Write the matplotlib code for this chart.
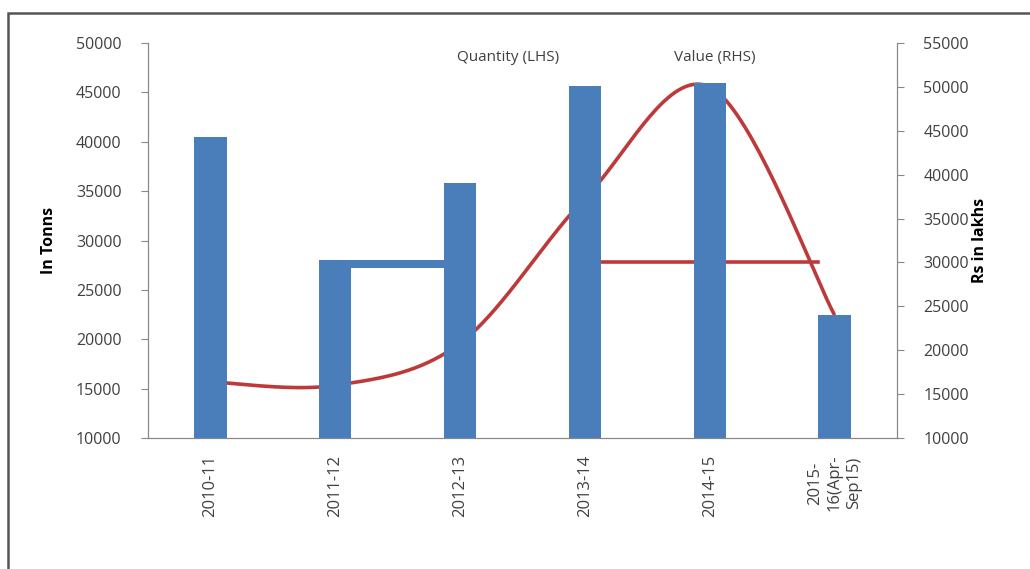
import numpy as np
import matplotlib.pyplot as plt

plt.rcParams['font.family'] = ['Open Sans', 'DejaVu Sans']

years = ['2010-11', '2011-12', '2012-13', '2013-14', '2014-15',
         '2015-\n16(Apr-\nSep15)']
quantity = [40500, 28000, 35800, 45600, 46000, 22500]   # tonnes, LHS
value = [16400, 16000, 20800, 37300, 50000, 24000]      # Rs lakhs, RHS

blue = '#4A7EBB'
red = '#BE3A3A'
grey = '#404040'


def smooth(xs, ys, n=40):
    # Bezier smoothing through every point (catmull-rom style tangents)
    xs = np.asarray(xs, float)
    ys = np.asarray(ys, float)
    px = np.r_[xs[0], xs, xs[-1]]
    py = np.r_[ys[0], ys, ys[-1]]
    outx, outy = [], []
    t = np.linspace(0, 1, n)
    for i in range(1, len(px) - 2):
        p0 = np.array([px[i], py[i]])
        p3 = np.array([px[i + 1], py[i + 1]])
        c1 = p0 + (np.array([px[i + 1], py[i + 1]]) - np.array([px[i - 1], py[i - 1]])) / 6
        c2 = p3 - (np.array([px[i + 2], py[i + 2]]) - p0) / 6
        pts = ((1 - t) ** 3)[:, None] * p0 + (3 * (1 - t) ** 2 * t)[:, None] * c1 \
            + (3 * (1 - t) * t ** 2)[:, None] * c2 + (t ** 3)[:, None] * p3
        outx.extend(pts[:, 0])
        outy.extend(pts[:, 1])
    return np.array(outx), np.array(outy)


fig = plt.figure(figsize=(10.3, 5.69), dpi=100)
ax = fig.add_axes([0.1437, 0.2302, 0.7272, 0.6942])
ax2 = ax.twinx()

x = np.arange(len(years))
w = 0.26

# line sits behind the bars
ax.set_zorder(ax2.get_zorder() + 1)
ax.patch.set_visible(False)

ax.bar(x, np.array(quantity) - 10000, bottom=10000, width=w, color=blue, zorder=2)
# stray legend key for quantity
ax.bar(1.5, 800, bottom=quantity[1] - 800, width=1 - w, color=blue, zorder=2)

sx, sy = smooth(x, value)
ax2.plot(sx, sy, color=red, lw=2.6, solid_capstyle='butt')
ax2.plot([3 + w / 2, 5 - w / 2], [30000, 30000], color=red, lw=2.6)

ax.set_xlim(-0.5, 5.5)
ax.set_ylim(10000, 50000)
ax.set_yticks(np.arange(10000, 50001, 5000))
ax2.set_ylim(10000, 55000)
ax2.set_yticks(np.arange(10000, 55001, 5000))

ax.set_xticks(x)
ax.set_xticklabels(years, rotation=90, fontsize=12, color=grey, linespacing=1.3)
ax.tick_params(axis='x', length=0, pad=12)
ax.tick_params(axis='y', labelsize=11.5, labelcolor=grey, color='#888888',
               length=5, pad=14)
ax2.tick_params(axis='y', labelsize=11.5, labelcolor=grey, color='#888888',
                length=5, pad=14)

for a in (ax, ax2):
    a.spines['top'].set_visible(False)
    for s in ('left', 'right', 'bottom'):
        a.spines[s].set_color('#888888')

ax.set_ylabel('In Tonns', fontsize=11.5, fontweight='bold', labelpad=14)
ax2.set_ylabel('Rs in lakhs', fontsize=11.5, fontweight='bold', labelpad=2)

fig.text(0.493, 0.892, 'Quantity (LHS)', fontsize=11, color=grey, ha='center')
fig.text(0.694, 0.892, 'Value (RHS)', fontsize=11, color=grey, ha='center')

# outer frame
fig.patches.append(plt.Rectangle((0.008, -0.01), 1.0, 0.987, transform=fig.transFigure,
                                 fill=False, edgecolor='#555555', lw=1.8))

fig.savefig('out.png', dpi=100)
